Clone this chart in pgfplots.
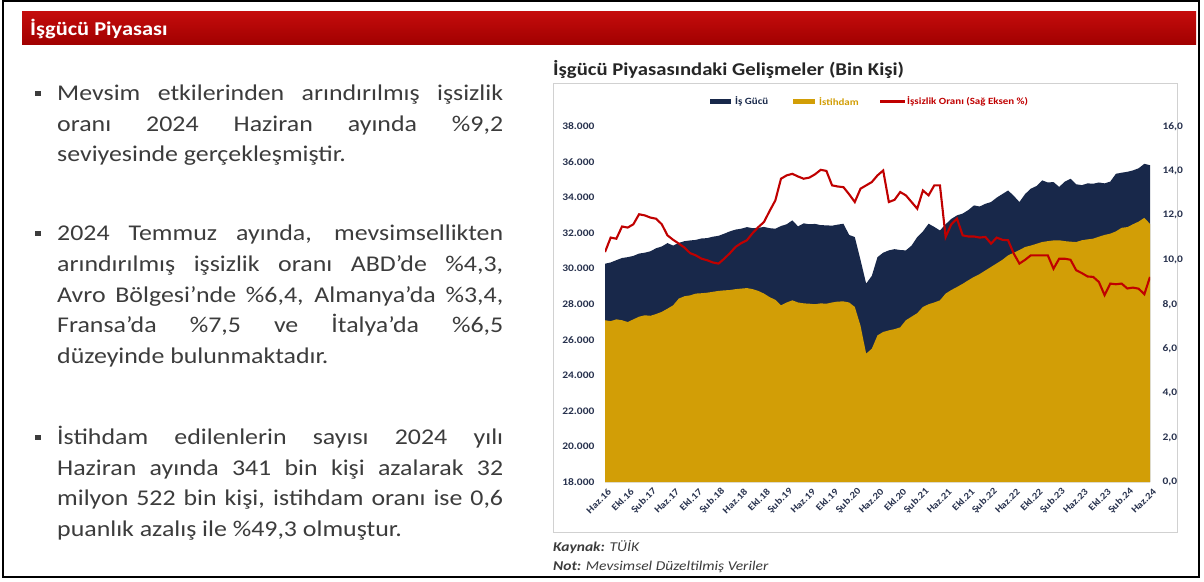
\documentclass[border=0pt]{standalone}
\usepackage{fontspec}
\setmainfont[FakeStretch=1.15]{Carlito}
\usepackage{pgfplots}
\pgfplotsset{compat=1.18}
\usepackage{pgfplotstable}
\definecolor{navyc}{RGB}{24,40,74}
\definecolor{goldc}{RGB}{210,158,6}
\definecolor{redc}{RGB}{192,0,0}
\definecolor{txt}{RGB}{60,60,60}
\definecolor{tickc}{RGB}{40,50,78}

\pgfplotstableread{
m L E U
0 30280 27100 10.35
1 30350 27050 11.0
2 30480 27150 10.95
3 30600 27100 11.5
4 30650 27000 11.45
5 30720 27150 11.6
6 30850 27300 12.05
7 30900 27380 12.0
8 30980 27350 11.9
9 31150 27450 11.85
10 31250 27570 11.6
11 31440 27750 11.1
12 31300 27940 10.9
13 31450 28320 10.73
14 31550 28450 10.55
15 31590 28500 10.3
16 31620 28600 10.2
17 31700 28620 10.05
18 31720 28650 9.98
19 31800 28700 9.88
20 31850 28750 9.83
21 31970 28780 10.05
22 32100 28800 10.3
23 32200 28850 10.58
24 32250 28880 10.75
25 32340 28910 10.88
26 32280 28850 11.2
27 32300 28750 11.47
28 32350 28600 11.7
29 32280 28400 12.2
30 32250 28250 12.67
31 32400 27940 13.65
32 32500 28100 13.8
33 32720 28220 13.87
34 32380 28100 13.75
35 32550 28050 13.65
36 32500 28030 13.7
37 32520 28000 13.85
38 32450 28050 14.05
39 32440 28030 14.0
40 32420 28100 13.35
41 32480 28150 13.3
42 32530 28160 13.27
43 31900 28100 12.95
44 31780 27850 12.6
45 30500 26800 13.2
46 29160 25220 13.35
47 29600 25500 13.5
48 30650 26250 13.8
49 30900 26440 14.02
50 31030 26530 12.6
51 31100 26600 12.7
52 31050 26700 13.05
53 31030 27100 12.9
54 31300 27300 12.6
55 31780 27500 12.3
56 32100 27850 13.12
57 32530 28000 12.9
58 32350 28100 13.35
59 32150 28220 13.35
60 32500 28600 11.03
61 32800 28800 11.6
62 33000 28970 11.85
63 33100 29150 11.1
64 33300 29350 11.05
65 33560 29540 11.05
66 33500 29700 11.0
67 33650 29900 11.03
68 33750 30100 10.73
69 34000 30300 11.0
70 34200 30500 10.9
71 34400 30750 10.88
72 34100 30900 10.28
73 33750 31050 9.83
74 34200 31220 10.0
75 34500 31300 10.2
76 34650 31400 10.2
77 34970 31500 10.2
78 34850 31550 10.2
79 34875 31590 9.6
80 34600 31600 10.05
81 34900 31550 10.05
82 35060 31520 10.0
83 34750 31500 9.53
84 34700 31600 9.4
85 34800 31650 9.25
86 34780 31690 9.23
87 34850 31800 9.0
88 34800 31900 8.41
89 34900 31970 8.93
90 35340 32100 8.9
91 35400 32300 8.93
92 35450 32340 8.71
93 35530 32500 8.75
94 35650 32650 8.7
95 35900 32860 8.45
96 35820 32520 9.23
}\data

\begin{document}
\begin{tikzpicture}[x=1pt,y=1pt]
\useasboundingbox (0,0) rectangle (1204,581);
\fill[white] (0,0) rectangle (1204,581);
\draw[black, line width=2pt] (3,4) rectangle (1199,579.5);
% title bar
\shade[top color={rgb,255:red,196;green,12;blue,12}, bottom color={rgb,255:red,160;green,0;blue,0}] (22,536) rectangle (1196,569);
\node[anchor=west, inner sep=0, text=white, font=\bfseries\fontsize{19.5}{22}\selectfont] at (30,552) {İşgücü Piyasası};

% left text
\fill[txt] (35,581-96.5) rectangle ++(5.5,5.5);
\node[anchor=base west, inner sep=0, text=txt, font=\fontsize{22.5}{30.5}\selectfont] at (57,581-100.7) {\parbox[t]{446pt}{%
\hbox to 446pt{Mevsim etkilerinden arındırılmış işsizlik}%
\hbox to 446pt{oranı 2024 Haziran ayında \%9,2}%
\hbox{seviyesinde gerçekleşmiştir.}}};

\fill[txt] (35,581-236.5) rectangle ++(5.5,5.5);
\node[anchor=base west, inner sep=0, text=txt, font=\fontsize{22.5}{30.8}\selectfont] at (57,581-240.5) {\parbox[t]{446pt}{%
\hbox to 446pt{2024 Temmuz ayında, mevsimsellikten}%
\hbox to 446pt{arındırılmış işsizlik oranı ABD’de \%4,3,}%
\hbox to 446pt{Avro Bölgesi’nde \%6,4, Almanya’da \%3,4,}%
\hbox to 446pt{Fransa’da \%7,5 ve İtalya’da \%6,5}%
\hbox{düzeyinde bulunmaktadır.}}};

\fill[txt] (35,581-440.5) rectangle ++(5.5,5.5);
\node[anchor=base west, inner sep=0, text=txt, font=\fontsize{22.5}{30.5}\selectfont] at (57,581-444.7) {\parbox[t]{446pt}{%
\hbox to 446pt{İstihdam edilenlerin sayısı 2024 yılı}%
\hbox to 446pt{Haziran ayında 341 bin kişi azalarak 32}%
\hbox to 446pt{milyon 522 bin kişi, istihdam oranı ise 0,6}%
\hbox{puanlık azalış ile \%49,3 olmuştur.}}};

% chart title and box
\node[anchor=west, inner sep=0, text={rgb,255:red,38;green,38;blue,38}, font=\bfseries\fontsize{18}{20}\selectfont] at (553,511) {İşgücü Piyasasındaki Gelişmeler (Bin Kişi)};
\draw[black!18, line width=0.8pt] (553,49) rectangle (1177,498);

% legend
\fill[navyc] (710,477) rectangle (731,482);
\node[anchor=west, inner sep=0, text=navyc, font=\bfseries\fontsize{9.5}{10}\selectfont] at (735,479.5) {İş Gücü};
\fill[goldc] (793,477) rectangle (815,482);
\node[anchor=west, inner sep=0, text=goldc, font=\bfseries\fontsize{9.5}{10}\selectfont] at (819,479.5) {İstihdam};
\fill[redc] (880,478.2) rectangle (905,480.8);
\node[anchor=west, inner sep=0, text=redc, font=\bfseries\fontsize{9.5}{10}\selectfont] at (907,479.5) {İşsizlik Oranı (Sağ Eksen \%)};

% footnotes
\node[anchor=base west, inner sep=0, text=txt, font=\itshape\fontsize{13.5}{15}\selectfont] at (553,581-551.7) {\textbf{Kaynak:} TÜİK};
\node[anchor=base west, inner sep=0, text=txt, font=\itshape\fontsize{13.5}{15}\selectfont] at (553,581-570) {\textbf{Not:} Mevsimsel Düzeltilmiş Veriler};

\begin{axis}[
  at={(605pt,99pt)}, anchor=south west, scale only axis,
  width=545pt, height=355.5pt,
  xmin=0, xmax=96, ymin=18000, ymax=38000,
  scaled y ticks=false,
  axis y line*=left, axis x line*=bottom,
  axis line style={draw=none}, major tick length=0pt,
  xtick={0,4,...,96},
  xticklabels={Haz.16,Ekl.16,Şub.17,Haz.17,Ekl.17,Şub.18,Haz.18,Ekl.18,Şub.19,Haz.19,Ekl.19,Şub.20,Haz.20,Ekl.20,Şub.21,Haz.21,Ekl.21,Şub.22,Haz.22,Ekl.22,Şub.23,Haz.23,Ekl.23,Şub.24,Haz.24},
  ytick={18000,20000,...,38000},
  yticklabels={18.000,20.000,22.000,24.000,26.000,28.000,30.000,32.000,34.000,36.000,38.000},
  ticklabel style={font=\bfseries\fontsize{10}{11}\selectfont, text=tickc},
  yticklabel style={xshift=-7pt},
  xticklabel style={rotate=45, anchor=east, yshift=-9pt, xshift=1pt, font=\bfseries\fontsize{9.5}{10}\selectfont},
]
\addplot[fill=navyc, draw=none] table[x=m,y=L]{\data} \closedcycle;
\addplot[fill=goldc, draw=none] table[x=m,y=E]{\data} \closedcycle;
\end{axis}
\begin{axis}[
  at={(605pt,99pt)}, anchor=south west, scale only axis,
  width=545pt, height=355.5pt,
  xmin=0, xmax=96, ymin=0, ymax=16,
  axis y line*=right, axis x line=none,
  axis line style={draw=none}, major tick length=0pt,
  ytick={0,2,...,16},
  yticklabels={{0,0},{2,0},{4,0},{6,0},{8,0},{10,0},{12,0},{14,0},{16,0}},
  ticklabel style={font=\bfseries\fontsize{10}{11}\selectfont, text=tickc},
  yticklabel style={xshift=9pt},
]
\addplot[redc, line width=2.1pt] table[x=m,y=U]{\data};
\end{axis}
\end{tikzpicture}
\end{document}
